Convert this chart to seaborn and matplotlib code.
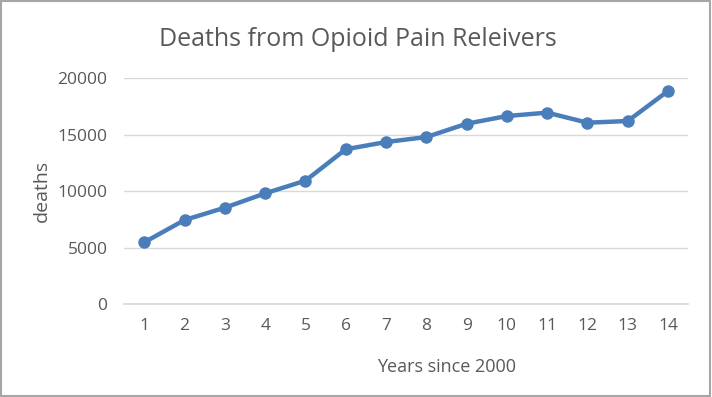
import matplotlib
matplotlib.use("Agg")
import matplotlib.pyplot as plt
import pandas as pd
import seaborn as sns

# values
years = list(range(1, 15))
deaths = [5490, 7460, 8550, 9820, 10940, 13720, 14360,
          14800, 15980, 16660, 16960, 16070, 16220, 18880]
y_ticks = [0, 5000, 10000, 15000, 20000]

TEXT = "#595959"
LINE = "#4a7ebb"


def main() -> None:
    sns.set_theme(style="white")
    plt.rcParams["font.family"] = ["Open Sans", "DejaVu Sans"]

    df = pd.DataFrame({"year": years, "deaths": deaths})

    fig = plt.figure(figsize=(7.12, 3.97), dpi=100)
    ax = fig.add_axes([0.1744, 0.2335, 0.7922, 0.5693])

    sns.lineplot(
        data=df,
        x="year",
        y="deaths",
        ax=ax,
        color=LINE,
        linewidth=3.2,
        marker="o",
        markersize=9,
        markeredgewidth=0,
        zorder=3,
    )

    ax.set_xlim(0.5, 14.5)
    ax.set_ylim(0, 20000)
    ax.set_xticks(years)
    ax.set_yticks(y_ticks)
    ax.yaxis.grid(True, color="#d9d9d9", linewidth=1)
    ax.xaxis.grid(False)
    for side in ["top", "right", "left"]:
        ax.spines[side].set_visible(False)
    ax.spines["bottom"].set_color("#d9d9d9")
    ax.tick_params(axis="both", length=0, labelsize=12.5, colors=TEXT)
    ax.tick_params(axis="y", pad=12)
    ax.tick_params(axis="x", pad=10)

    # the x label in the reference sits right of the axes centre
    ax.set_xlabel("Years since 2000", fontsize=13, color=TEXT, labelpad=17, x=0.571)
    ax.set_ylabel("deaths", fontsize=14, color=TEXT, labelpad=5)
    fig.suptitle("Deaths from Opioid Pain Releivers", fontsize=18, color=TEXT,
                 x=0.502, y=0.932)

    fig.patches.append(plt.Rectangle((0.002, 0.003), 0.995, 0.994, transform=fig.transFigure,
                                     fill=False, edgecolor="#a6a6a6", linewidth=1.5))

    fig.savefig("out.png", dpi=100)
    plt.close(fig)


if __name__ == "__main__":
    main()
